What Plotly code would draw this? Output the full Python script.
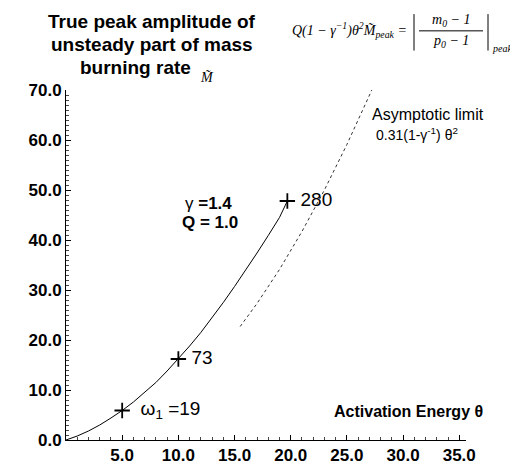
import plotly.graph_objects as go

# ---- data ----
theta = [0, 1, 2, 3, 4, 5, 6, 7, 8, 9, 10, 11, 12, 13, 14, 15, 16, 17, 18, 19, 19.7]
m_peak = [0, 0.8, 1.8, 3.0, 4.4, 5.9, 7.6, 9.5, 11.5, 13.8, 16.2, 18.8, 21.5, 24.4,
          27.5, 30.7, 34.0, 37.4, 40.9, 44.5, 47.8]
asym_theta = [15.5, 17, 19, 21, 23, 25, 27.3]
asym_m = [22.7, 27.3, 34.1, 41.7, 50.0, 59.1, 70.4]
mark_theta = [5, 10, 19.7]
mark_m = [5.9, 16.2, 47.8]
mark_labels = ["  ω<sub>1</sub> =19", " 73", " 280"]
x_ticks = [5, 10, 15, 20, 25, 30, 35]
x_ticktext = ["5.0", "10.0", "15.0", "20.0", "25.0", "30.0", "35.0"]
y_ticks = [0, 10, 20, 30, 40, 50, 60, 70]
y_ticktext = ["0.0", "10.0", "20.0", "30.0", "40.0", "50.0", "60.0", "70.0"]

W, H = 518, 469
L, R, T, B = 58, 458, 82, 437


def px(x):
    return (x - L) / (R - L)


def py(y):
    return (B - y) / (B - T)


SANS = "Liberation Sans, Arial, sans-serif"
SERIF = "Liberation Serif, Times New Roman, serif"

fig = go.Figure()
fig.add_trace(go.Scatter(x=theta, y=m_peak, mode="lines",
                         line=dict(color="black", width=1), showlegend=False))
fig.add_trace(go.Scatter(x=asym_theta, y=asym_m, mode="lines",
                         line=dict(color="#333333", width=1, dash="dot"),
                         showlegend=False, cliponaxis=False))
fig.add_trace(go.Scatter(x=mark_theta, y=mark_m, mode="markers+text",
                         marker=dict(symbol="cross-thin", size=11,
                                     line=dict(color="black", width=1.8)),
                         text=mark_labels, textposition="middle right",
                         textfont=dict(family=SANS, size=19, color="black"),
                         showlegend=False, cliponaxis=False))

axis_common = dict(showline=True, linecolor="black", linewidth=1, ticks="inside",
                   ticklen=5, tickcolor="black", tickwidth=1, showgrid=False,
                   zeroline=False,
                   tickfont=dict(family=SANS, size=17, color="black", weight="bold"),
                   minor=dict(ticks="inside", ticklen=3, dtick=1, tickcolor="#444",
                              tickwidth=1, showgrid=False))

fig.update_xaxes(range=[0, 35.6], tickvals=x_ticks, ticktext=x_ticktext, **axis_common)
fig.update_yaxes(range=[0, 70], tickvals=y_ticks, ticktext=y_ticktext, **axis_common)

ann = []


def add_text(x, y, text, size, family=SANS, weight="normal", style="normal",
             xanchor="center"):
    ann.append(dict(x=px(x), y=py(y), xref="paper", yref="paper", text=text,
                    showarrow=False, xanchor=xanchor, yanchor="middle",
                    font=dict(family=family, size=size, color="black",
                              weight=weight, style=style)))


# title lines
add_text(144, 13, "True peak amplitude of", 19, weight="bold")
add_text(144, 36, "unsteady part of mass", 19, weight="bold")
add_text(127, 59, "burning rate", 19, weight="bold")
add_text(199, 69, "M\u0303", 14, family=SERIF, style="italic")

# formula
add_text(401, 21, "Q(1 − γ<sup>−1</sup>)θ<sup>2</sup>M\u0303<sub>peak</sub> =", 14,
         family=SERIF, style="italic", xanchor="right")
add_text(443, 12, "m<sub>0</sub> − 1", 14, family=SERIF, style="italic")
add_text(443, 33, "p<sub>0</sub> − 1", 14, family=SERIF, style="italic")
add_text(482, 40, "peak", 10, family=SERIF, style="italic", xanchor="left")

# in-plot texts
add_text(200, 197, "γ <b>=1.4</b>", 17)
add_text(202, 216, "Q = 1.0", 17, weight="bold")
add_text(362, 107, "Asymptotic limit", 16, xanchor="left")
add_text(366, 127, "0.31(1-γ<sup>-1</sup>) θ<sup>2</sup>", 14, xanchor="left")
add_text(477, 408, "Activation Energy θ", 16, weight="bold", xanchor="right")

shapes = [
    dict(type="line", xref="paper", yref="paper", x0=px(406), x1=px(406),
         y0=py(5), y1=py(42), line=dict(color="black", width=1)),
    dict(type="line", xref="paper", yref="paper", x0=px(480), x1=px(480),
         y0=py(5), y1=py(42), line=dict(color="black", width=1)),
    dict(type="line", xref="paper", yref="paper", x0=px(411), x1=px(475),
         y0=py(22), y1=py(22), line=dict(color="black", width=1)),
]

fig.update_layout(width=W, height=H, margin=dict(l=L, r=W - R, t=T, b=H - B),
                  paper_bgcolor="white", plot_bgcolor="white",
                  annotations=ann, shapes=shapes, showlegend=False)

fig.write_html("out.html")
